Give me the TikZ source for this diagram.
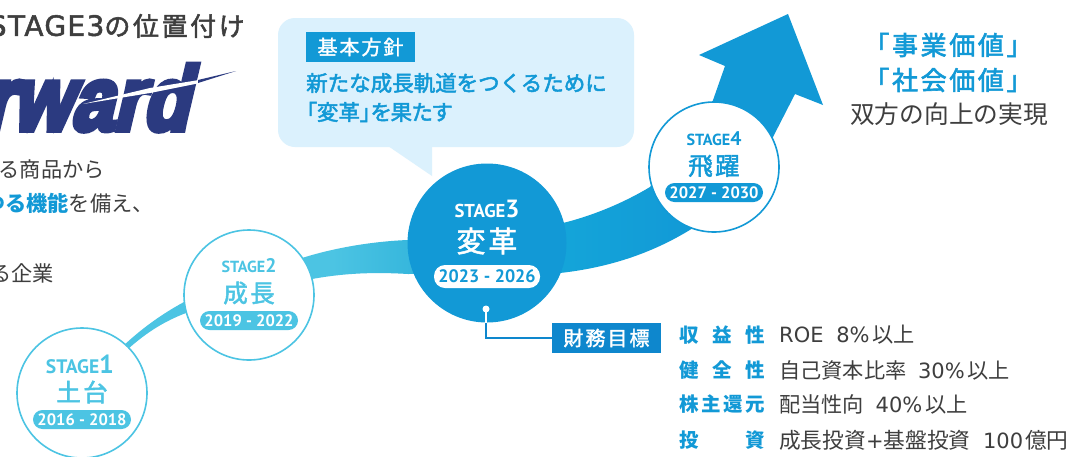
\documentclass[tikz,border=0pt]{standalone}
\usepackage{fontspec}
\usepackage{graphicx}
\setmainfont{Noto Sans CJK JP}
\newfontfamily\jpt[LetterSpace=10]{Noto Sans CJK JP}
\newfontfamily\jpp[RawFeature=+palt]{Noto Sans CJK JP}
\newfontfamily\din{PT Sans}
\newfontfamily\latn{DejaVu Sans}
\newfontfamily\latt[LetterSpace=5]{DejaVu Sans}
\newfontfamily\logof{Liberation Sans Bold}
\newcommand\fs[1]{\fontsize{#1}{#1}\selectfont}
\newcommand\md[2][0.5]{\special{pdf:code 2 Tr #1 w}#2\special{pdf:code 0 Tr 0 w}}
\newcommand\la[1]{{\latn\fs{21}#1}}
\definecolor{lightb}{HTML}{4CC4E3}
\definecolor{midb}{HTML}{35B6DC}
\definecolor{nextb}{HTML}{14A5D9}
\definecolor{deepb}{HTML}{1299D6}
\definecolor{goalb}{HTML}{0E87CD}
\definecolor{bubble}{HTML}{DBF1FD}
\definecolor{ink}{HTML}{3E3E3E}
\definecolor{logob}{HTML}{2B3A80}
\pgfdeclarehorizontalshading{ribbonfade}{100bp}{color(0bp)=(lightb); color(40bp)=(lightb); color(46bp)=(midb); color(56bp)=(nextb); color(66bp)=(deepb); color(100bp)=(deepb)}
\newcommand\spread[2]{\makebox[#1pt][s]{#2}}
\tikzset{
  stagecirc/.style={circle,minimum size=130pt,inner sep=0pt,draw=#1,line width=1.6pt,fill=white},
  stagetag/.style={inner sep=0pt,text=#1},
  stagename/.style={inner sep=0pt,text=#1,font=\jpt\fs{24.5}},
  pill/.style={rounded corners=9.5pt,fill=#1,minimum width=98pt,minimum height=19pt,inner sep=0pt,text=white,font=\din\bfseries\fs{16.5}},
  rowlab/.style={inner sep=0pt,anchor=west,text=deepb,font=\bfseries\fs{19.5}},
  rowval/.style={inner sep=0pt,anchor=west,text=ink,font=\fs{21.2}},
  bodytxt/.style={inner sep=0pt,anchor=east,text=ink,font=\fs{21.2}},
}
\begin{document}
\begin{tikzpicture}[x=1pt,y=-1pt]
\useasboundingbox (0,0) rectangle (1068,456);
\clip (0,0) rectangle (1068,456);
\fill[white] (0,0) rectangle (1068,456);

% ribbon + arrow
\path[shading=ribbonfade]
  (122,347) .. controls (140,330) and (160,315) .. (184,302)
  -- (302,258) .. controls (340,246) and (380,241) .. (408,240)
  -- (563,223) .. controls (595,215) and (625,202) .. (650,187)
  -- (712,103) -- (725,66) -- (699,55) -- (788,14) -- (823,105) -- (795,94) -- (773,137)
  -- (693,228) .. controls (650,255) and (605,268) .. (560,273)
  -- (408,274) .. controls (375,272) and (345,273) .. (312,279)
  -- (186,313) .. controls (165,321) and (147,332) .. (128,349) -- cycle;

% title and left text
\node[inner sep=0pt,anchor=east,text=ink,font=\jpt\fs{26}] (title) at (245,26) {\md{{\latt\fs{28}STAGE3}の位置付け}};
\node[inner sep=0pt,anchor=south east,text=logob,font=\logof\fs{90},xscale=.84,xslant=.28,transform shape] (logo) at (188,131) {\md[6]{rward}};
\fill[white] (83,104) -- (150,88) -- (205,79) -- (205,82) -- (150,93) -- cycle;
\fill[logob] (198,83) -- (236,71) -- (198,80) -- cycle;
\node[bodytxt] (t1) at (105,169) {る商品から};
\node[bodytxt] (t2) at (154,203) {\textcolor{deepb}{\bfseries ゆる機能}を備え、};
\node[bodytxt] (t3) at (54,273) {る企業};

% bubble
\fill[bubble,rounded corners=17pt] (278,18) rectangle (634,147);
\fill[bubble] (388,146) -- (432,176) -- (432,146) -- cycle;
\node[fill=deepb,minimum width=109pt,minimum height=30pt,inner sep=0pt,text=white,font=\jpt\fs{20}] (policy) at (360.5,47) {\md[0.35]{基本方針}};
\node[inner sep=0pt,anchor=west,text=deepb,font=\fs{21.5}] (b1) at (306,83) {\md{新たな成長軌道をつくるために}};
\node[inner sep=0pt,anchor=west,text=deepb,font=\jpp\fs{21.5}] (b2) at (306,112) {\md{「変革」を果たす}};

% stage 1
\node[stagecirc=lightb] (s1) at (82,393) {};
\node[stagetag=lightb] (s1t) at (80,364) {\resizebox{68pt}{!}{\din\bfseries\fs{18}STAGE{\fs{24}1}}};
\node[stagename=lightb] (s1n) at (82,392) {\md{土台}};
\node[pill=lightb] (s1p) at (82,419.5) {2016 - 2018};
% stage 2
\node[stagecirc=lightb] (s2) at (249,295) {};
\node[stagetag=lightb] (s2t) at (249,266) {\resizebox{55pt}{!}{\din\bfseries\fs{18}STAGE{\fs{22}2}}};
\node[stagename=lightb] (s2n) at (249,293) {\md{成長}};
\node[pill=lightb] (s2p) at (249,320.5) {2019 - 2022};
% stage 3
\node[circle,minimum size=159pt,inner sep=0pt,fill=deepb] (s3) at (487,243) {};
\node[stagetag=white] (s3t) at (487,209) {\resizebox{65pt}{!}{\din\bfseries\fs{18}STAGE{\fs{24}3}}};
\node[stagename=white,font=\jpt\fs{29}] (s3n) at (487,241) {\md{変革}};
\node[fill=white,rounded corners=11pt,minimum width=106pt,minimum height=23pt,inner sep=0pt,text=deepb,font=\din\bfseries\fs{18}] (s3p) at (487,276.5) {2023 - 2026};
% stage 4
\node[stagecirc=deepb] (s4) at (714,167) {};
\node[stagetag=deepb] (s4t) at (714,139) {\resizebox{55pt}{!}{\din\bfseries\fs{18}STAGE{\fs{22}4}}};
\node[stagename=deepb] (s4n) at (714,166) {\md{飛躍}};
\node[pill=deepb] (s4p) at (714,192.5) {2027 - 2030};

% financial targets
\node[circle,fill=white,minimum size=7pt,inner sep=0pt] (dot) at (486,309) {};
\node[fill=goalb,minimum width=109pt,minimum height=30pt,inner sep=0pt,text=white,font=\jpt\fs{20}] (goal) at (606.5,338) {\md[0.35]{財務目標}};
\draw[white,line width=1.4pt] (dot.center) -- (486,323);
\coordinate (linestart) at (486,323);
\draw[goalb,line width=1.4pt] (linestart) |- (goal.west);

\node[rowlab] (l1) at (679,335) {\spread{85.5}{収\hfil 益\hfil 性}};
\node[rowlab] (l2) at (679,370) {\spread{85.5}{健\hfil 全\hfil 性}};
\node[rowlab] (l3) at (679,404) {\spread{85.5}{株\hfil 主\hfil 還\hfil 元}};
\node[rowlab] (l4) at (679,440) {\spread{85.5}{投\hfil 資}};
\node[rowval] (v1) at (779,335) {\la{ROE\hspace{6pt} 8\%}\hspace{3pt}以上};
\node[rowval] (v2) at (779,370) {自己資本比率\la{\hspace{5pt} 30\%}\hspace{3pt}以上};
\node[rowval] (v3) at (779,404) {配当性向\la{\hspace{5pt} 40\%}\hspace{3pt}以上};
\node[rowval,font=\fs{21.7}] (v4) at (779,440) {成長投資\la{+}基盤投資\la{\hspace{6pt} 100\hspace{2pt}}億円};

% right text
\node[inner sep=0pt,text=deepb,font=\jpt\fs{26}] (r1) at (948,45) {\md[0.6]{「事業価値」}};
\node[inner sep=0pt,text=deepb,font=\jpt\fs{26}] (r2) at (948,80) {\md[0.6]{「社会価値」}};
\node[inner sep=0pt,text=ink,font=\fs{24.7}] (r3) at (949,114) {双方の向上の実現};
\end{tikzpicture}
\end{document}
